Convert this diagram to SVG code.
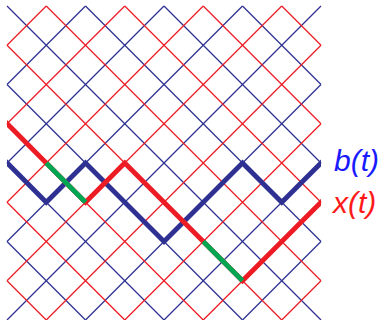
<svg xmlns="http://www.w3.org/2000/svg" width="385" height="320" viewBox="0 0 385 320">
<style>
.b{stroke:#2e3192;stroke-width:1.3;fill:none}
.r{stroke:#ed1c24;stroke-width:1.3;fill:none}
.tb{stroke:#2e3192;stroke-width:4.8;fill:none;stroke-linejoin:miter}
.tr{stroke:#ed1c24;stroke-width:4.8;fill:none;stroke-linejoin:miter}
.tg{stroke:#00a651;stroke-width:4.8;fill:none}
.lbl{font-family:"Liberation Sans",Arial,sans-serif;font-style:italic;font-size:30px}
</style>
<defs>
<clipPath id="c"><rect x="7" y="0" width="314" height="320"/></clipPath>
</defs>
<g id="grid-blue">
<line class="b" x1="7" y1="6" x2="321" y2="320"/>
<line class="b" x1="85.5" y1="6" x2="321" y2="241.5"/>
<line class="b" x1="164" y1="6" x2="321" y2="163"/>
<line class="b" x1="242.5" y1="6" x2="321" y2="84.5"/>
<line class="b" x1="7" y1="84.5" x2="242.5" y2="320"/>
<line class="b" x1="7" y1="163" x2="164" y2="320"/>
<line class="b" x1="7" y1="241.5" x2="85.5" y2="320"/>
<line class="b" x1="7" y1="84.5" x2="85.5" y2="6"/>
<line class="b" x1="7" y1="163" x2="164" y2="6"/>
<line class="b" x1="7" y1="241.5" x2="242.5" y2="6"/>
<line class="b" x1="7" y1="320" x2="321" y2="6"/>
<line class="b" x1="85.5" y1="320" x2="321" y2="84.5"/>
<line class="b" x1="164" y1="320" x2="321" y2="163"/>
<line class="b" x1="242.5" y1="320" x2="321" y2="241.5"/>
</g>
<g id="grid-red">
<line class="r" x1="46.25" y1="6" x2="321" y2="280.75"/>
<line class="r" x1="124.75" y1="6" x2="321" y2="202.25"/>
<line class="r" x1="203.25" y1="6" x2="321" y2="123.75"/>
<line class="r" x1="281.75" y1="6" x2="321" y2="45.25"/>
<line class="r" x1="7" y1="45.25" x2="281.75" y2="320"/>
<line class="r" x1="7" y1="123.75" x2="203.25" y2="320"/>
<line class="r" x1="7" y1="202.25" x2="124.75" y2="320"/>
<line class="r" x1="7" y1="280.75" x2="46.25" y2="320"/>
<line class="r" x1="7" y1="45.25" x2="46.25" y2="6"/>
<line class="r" x1="7" y1="123.75" x2="124.75" y2="6"/>
<line class="r" x1="7" y1="202.25" x2="203.25" y2="6"/>
<line class="r" x1="7" y1="280.75" x2="281.75" y2="6"/>
<line class="r" x1="46.25" y1="320" x2="321" y2="45.25"/>
<line class="r" x1="124.75" y1="320" x2="321" y2="123.75"/>
<line class="r" x1="203.25" y1="320" x2="321" y2="202.25"/>
<line class="r" x1="281.75" y1="320" x2="321" y2="280.75"/>
</g>
<g id="paths" clip-path="url(#c)">
<polyline id="b-path" class="tb" points="4,159.75 46.25,202.25 85.5,163 124.75,202.25 164,241.5 203.25,202.25 242.5,163 281.75,202.25 324,160"/>
<polyline id="x-path" class="tr" points="4,120.5 46.25,163 85.5,202.25 124.75,163 164,202.25 203.25,241.5 242.5,280.75 281.75,241.5 324,199.25"/>
<line class="tg" x1="46.25" y1="163" x2="85.5" y2="202.25"/>
<line class="tg" x1="203.25" y1="241.5" x2="242.5" y2="280.75"/>
</g>
<g id="label-b"><text class="lbl" x="334" y="171" fill="#1a1aff">b(t)</text></g>
<g id="label-x"><text class="lbl" x="333" y="212.5" fill="#ff1a1a">x(t)</text></g>
</svg>
